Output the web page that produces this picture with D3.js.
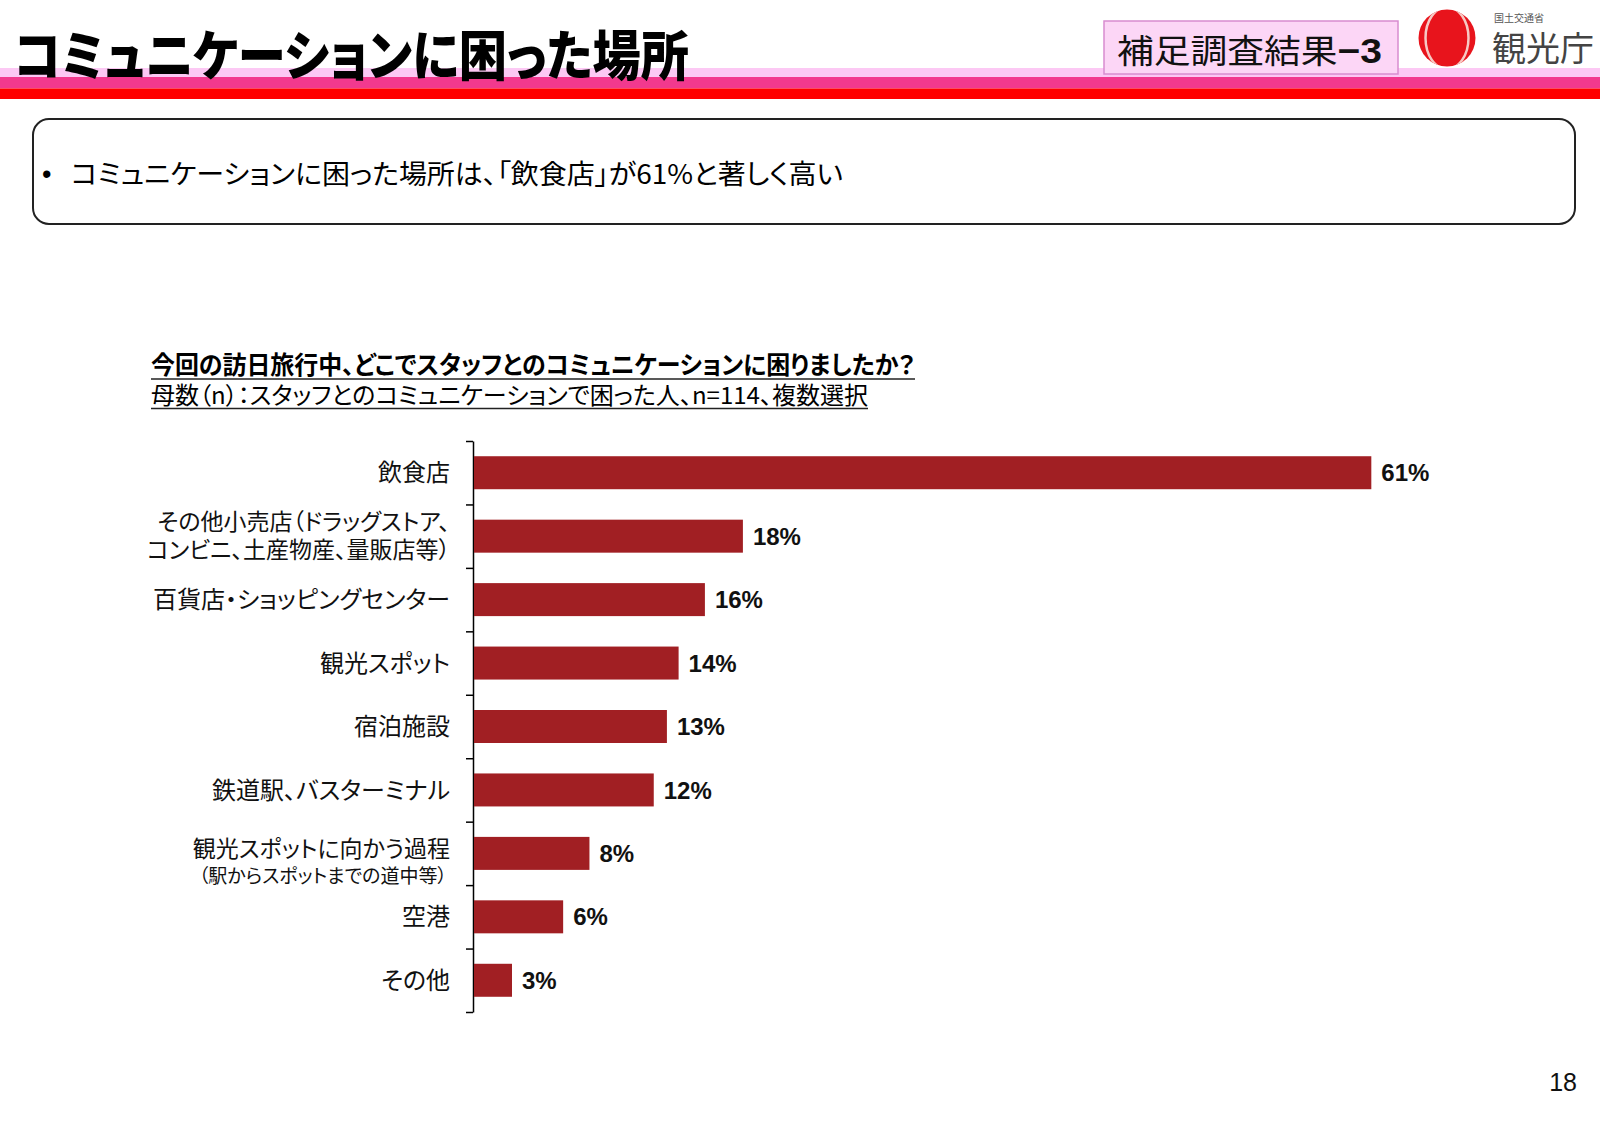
<!DOCTYPE html>
<html>
<head>
<meta charset="utf-8">
<style>
body { margin: 0; background: #fff; }
text { font-family: "Noto Sans CJK JP", sans-serif; font-feature-settings: "palt"; }
.num { font-family: "Liberation Sans", Arial, sans-serif; }
</style>
</head>
<body>
<svg id="chart" width="1600" height="1132"></svg>
<script src="https://d3js.org/d3.v7.min.js"></script>
<script>
// texts
var titleText = "コミュニケーションに困った場所";
var badgeText = "補足調査結果";
var badgeNum = "−3";
var ministryText = "国土交通省";
var agencyText = "観光庁";
var summaryText = "コミュニケーションに困った場所は、「飲食店」が61%と著しく高い";
var questionText = "今回の訪日旅行中、どこでスタッフとのコミュニケーションに困りましたか？";
var baseText = "母数（n）：スタッフとのコミュニケーションで困った人、n=114、複数選択";
var pageNumber = "18";

// chart data (share of n=114)
var categories = [
  "飲食店",
  "その他小売店（ドラッグストア、\nコンビニ、土産物産、量販店等）",
  "百貨店・ショッピングセンター",
  "観光スポット",
  "宿泊施設",
  "鉄道駅、バスターミナル",
  "観光スポットに向かう過程",
  "空港",
  "その他"
];
var categoryNotes = ["", "", "", "", "", "", "（駅からスポットまでの道中等）", "", ""];
var values = [61.4, 18.4, 15.8, 14.0, 13.2, 12.3, 7.9, 6.1, 2.6];

var svg = d3.select("#chart");
svg.append("rect").attr("width", 1600).attr("height", 1132).attr("fill", "#fff");

// header stripes
svg.append("rect").attr("x", 0).attr("y", 68).attr("width", 1600).attr("height", 9).attr("fill", "#fcc8f4");
svg.append("rect").attr("x", 0).attr("y", 77).attr("width", 1600).attr("height", 11.5).attr("fill", "#f2398e");
svg.append("rect").attr("x", 0).attr("y", 88.5).attr("width", 1600).attr("height", 10.5).attr("fill", "#ff0000");

// title
svg.append("text")
  .attr("x", 14)
  .attr("y", 76)
  .attr("font-size", 54)
  .attr("font-weight", 900)
  .attr("textLength", 675)
  .attr("lengthAdjust", "spacingAndGlyphs")
  .attr("fill", "#000")
  .text(titleText);

// badge
svg.append("rect")
  .attr("x", 1104).attr("y", 21).attr("width", 294).attr("height", 53)
  .attr("fill", "#fcd6f6").attr("stroke", "#d88ccf").attr("stroke-width", 1.5);
var badge = svg.append("text")
  .attr("x", 1117).attr("y", 63)
  .attr("font-size", 33)
  .attr("textLength", 265)
  .attr("lengthAdjust", "spacingAndGlyphs")
  .attr("fill", "#111");
badge.append("tspan").text(badgeText);
badge.append("tspan").attr("class", "num").attr("font-weight", "bold").attr("font-size", 35).text(badgeNum);

// logo
var clip = svg.append("defs").append("clipPath").attr("id", "logoClip");
clip.append("circle").attr("cx", 1447).attr("cy", 38).attr("r", 28.5);
svg.append("circle").attr("cx", 1447).attr("cy", 38).attr("r", 28.5).attr("fill", "#e8141c");
svg.append("ellipse")
  .attr("cx", 1447).attr("cy", 38).attr("rx", 21.5).attr("ry", 31)
  .attr("fill", "none").attr("stroke", "#f7c9c4").attr("stroke-width", 2.5)
  .attr("clip-path", "url(#logoClip)");
svg.append("text").attr("x", 1494).attr("y", 22).attr("font-size", 10).attr("fill", "#555").text(ministryText);
svg.append("text").attr("x", 1492).attr("y", 61).attr("font-size", 34).attr("fill", "#444").text(agencyText);

// summary box
svg.append("rect")
  .attr("x", 33).attr("y", 119).attr("width", 1542).attr("height", 105).attr("rx", 16)
  .attr("fill", "none").attr("stroke", "#222").attr("stroke-width", 2);
svg.append("text").attr("class", "num").attr("x", 42).attr("y", 183).attr("font-size", 27).text("•");
svg.append("text")
  .attr("x", 71).attr("y", 184)
  .attr("font-size", 27)
  .attr("textLength", 772)
  .attr("lengthAdjust", "spacingAndGlyphs")
  .attr("fill", "#000")
  .text(summaryText);

// question + base
svg.append("text")
  .attr("x", 151).attr("y", 374)
  .attr("font-size", 25).attr("font-weight", "bold")
  .attr("textLength", 764).attr("lengthAdjust", "spacingAndGlyphs")
  .text(questionText);
svg.append("line").attr("x1", 151).attr("x2", 915).attr("y1", 379).attr("y2", 379)
  .attr("stroke", "#222").attr("stroke-width", 1.5);
svg.append("text")
  .attr("x", 151).attr("y", 404)
  .attr("font-size", 24)
  .attr("textLength", 717).attr("lengthAdjust", "spacingAndGlyphs")
  .text(baseText);
svg.append("line").attr("x1", 151).attr("x2", 868).attr("y1", 408.5).attr("y2", 408.5)
  .attr("stroke", "#222").attr("stroke-width", 1.5);

// chart
var idx = d3.range(categories.length);
var y = d3.scaleBand().domain(idx).range([441, 1012]);
var yEdge = d3.scaleLinear().domain([0, categories.length]).range([441, 1012]);
var x = d3.scaleLinear().domain([0, 70]).range([474, 1497]);
var bh = y.bandwidth() * 0.52;

svg.append("g")
  .attr("transform", "translate(473,0)")
  .call(d3.axisLeft(yEdge).tickValues(d3.range(categories.length + 1)).tickFormat("").tickSize(7).tickSizeOuter(0))
  .call(function(g) {
    g.selectAll("path, line").attr("stroke", "#000").attr("stroke-width", 1.5);
  });

svg.append("g").selectAll("rect")
  .data(values)
  .join("rect")
  .attr("x", x(0))
  .attr("y", function(d, i) { return y(i) + (y.bandwidth() - bh) / 2; })
  .attr("width", function(d) { return x(d) - x(0); })
  .attr("height", bh)
  .attr("fill", "#a11f23");

svg.append("g").selectAll("text")
  .data(values)
  .join("text")
  .attr("class", "num")
  .attr("x", function(d) { return x(d) + 10; })
  .attr("y", function(d, i) { return y(i) + y.bandwidth() / 2; })
  .attr("dy", "0.36em")
  .attr("font-size", 24)
  .attr("font-weight", "bold")
  .attr("fill", "#111")
  .text(function(d) { return Math.round(d) + "%"; });

// category labels
var labels = svg.append("g").attr("text-anchor", "end").attr("fill", "#111");
categories.forEach(function(c, i) {
  var cy = y(i) + y.bandwidth() / 2;
  var lines = c.split("\n");
  if (categoryNotes[i]) {
    labels.append("text").attr("x", 450).attr("y", cy - 5).attr("dy", "0.36em").attr("font-size", 23).text(lines[0]);
    labels.append("text").attr("x", 447).attr("y", cy + 23).attr("dy", "0.36em").attr("font-size", 19).text(categoryNotes[i]);
  } else if (lines.length > 1) {
    labels.append("text").attr("x", 450).attr("y", cy - 14).attr("dy", "0.36em").attr("font-size", 23).text(lines[0]);
    labels.append("text").attr("x", 450).attr("y", cy + 14).attr("dy", "0.36em").attr("font-size", 23).text(lines[1]);
  } else {
    labels.append("text").attr("x", 450).attr("y", cy).attr("dy", "0.36em").attr("font-size", 24).text(c);
  }
});

// page number
svg.append("text").attr("class", "num").attr("x", 1577).attr("y", 1091)
  .attr("text-anchor", "end").attr("font-size", 25).attr("fill", "#111").text(pageNumber);
</script>
</body>
</html>
